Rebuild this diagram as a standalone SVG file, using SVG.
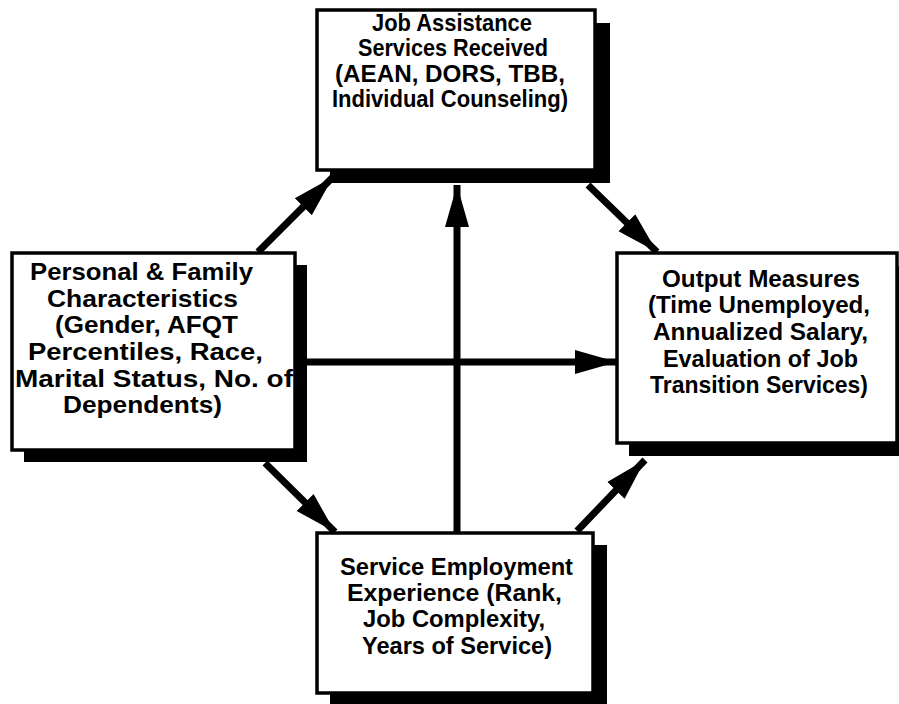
<svg xmlns="http://www.w3.org/2000/svg" width="899" height="704" viewBox="0 0 899 704">
  <style>
    .box { fill: #ffffff; stroke: #000000; stroke-width: 3.5; }
    .shadow { fill: #000000; }
    .lbl { font-family: "Liberation Sans", Arial, Helvetica, sans-serif; font-size: 24px; font-weight: bold; fill: #000000; }
    .conn { stroke: #000000; stroke-width: 7; fill: none; marker-end: url(#arrow); }
  </style>
  <defs>
    <marker id="arrow" markerUnits="userSpaceOnUse" markerWidth="44" markerHeight="26" refX="42" refY="13" orient="auto">
      <path d="M0,1 L42,13 L0,25 Z" fill="#000000"/>
    </marker>
  </defs>
  <rect width="899" height="704" fill="#ffffff"/>

  <g id="connectors">
    <line class="conn" x1="258" y1="252" x2="333" y2="177"/>
    <line class="conn" x1="588" y1="185" x2="657" y2="252"/>
    <line class="conn" x1="296" y1="362" x2="617" y2="362"/>
    <line class="conn" x1="457" y1="533" x2="457" y2="185"/>
    <line class="conn" x1="265" y1="463" x2="335" y2="532"/>
    <line class="conn" x1="577" y1="531" x2="645" y2="460"/>
  </g>

  <g id="job-assistance">
    <rect class="shadow" x="330" y="23" width="280" height="160"/>
    <rect class="box" x="317" y="10" width="278" height="160"/>
    <text class="lbl" x="372" y="31" textLength="160" lengthAdjust="spacingAndGlyphs">Job Assistance</text>
    <text class="lbl" x="358" y="56" textLength="190" lengthAdjust="spacingAndGlyphs">Services Received</text>
    <text class="lbl" x="335" y="82" textLength="230" lengthAdjust="spacingAndGlyphs">(AEAN, DORS, TBB,</text>
    <text class="lbl" x="332" y="107" textLength="236" lengthAdjust="spacingAndGlyphs">Individual Counseling)</text>
  </g>

  <g id="personal-family">
    <rect class="shadow" x="24" y="265" width="283" height="197"/>
    <rect class="box" x="12" y="253" width="283" height="197"/>
    <text class="lbl" x="30" y="280" textLength="223" lengthAdjust="spacingAndGlyphs">Personal &amp; Family</text>
    <text class="lbl" x="47" y="307" textLength="191" lengthAdjust="spacingAndGlyphs">Characteristics</text>
    <text class="lbl" x="55" y="333" textLength="183" lengthAdjust="spacingAndGlyphs">(Gender, AFQT</text>
    <text class="lbl" x="28" y="360" textLength="235" lengthAdjust="spacingAndGlyphs">Percentiles, Race,</text>
    <text class="lbl" x="15" y="387" textLength="278" lengthAdjust="spacingAndGlyphs">Marital Status, No. of</text>
    <text class="lbl" x="63" y="413" textLength="159" lengthAdjust="spacingAndGlyphs">Dependents)</text>
  </g>

  <g id="output-measures">
    <rect class="shadow" x="629" y="266" width="280" height="190"/>
    <rect class="box" x="617" y="253" width="280" height="190"/>
    <text class="lbl" x="662" y="287" textLength="198" lengthAdjust="spacingAndGlyphs">Output Measures</text>
    <text class="lbl" x="648" y="313" textLength="222" lengthAdjust="spacingAndGlyphs">(Time Unemployed,</text>
    <text class="lbl" x="653" y="340" textLength="215" lengthAdjust="spacingAndGlyphs">Annualized Salary,</text>
    <text class="lbl" x="663" y="367" textLength="195" lengthAdjust="spacingAndGlyphs">Evaluation of Job</text>
    <text class="lbl" x="650" y="393" textLength="218" lengthAdjust="spacingAndGlyphs">Transition Services)</text>
  </g>

  <g id="service-employment">
    <rect class="shadow" x="330" y="545" width="277" height="160"/>
    <rect class="box" x="317" y="533" width="276" height="160"/>
    <text class="lbl" x="340" y="575" textLength="233" lengthAdjust="spacingAndGlyphs">Service Employment</text>
    <text class="lbl" x="347" y="601" textLength="215" lengthAdjust="spacingAndGlyphs">Experience (Rank,</text>
    <text class="lbl" x="363" y="627" textLength="182" lengthAdjust="spacingAndGlyphs">Job Complexity,</text>
    <text class="lbl" x="362" y="654" textLength="190" lengthAdjust="spacingAndGlyphs">Years of Service)</text>
  </g>
</svg>
